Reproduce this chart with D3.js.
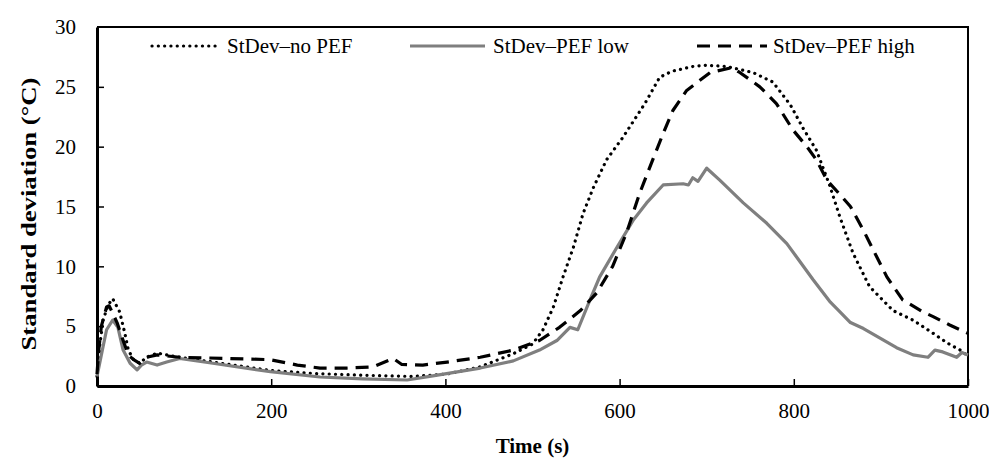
<!DOCTYPE html>
<html>
<head>
<meta charset="utf-8">
<script src="https://cdn.jsdelivr.net/npm/d3@7"></script>
<style>
  body { margin: 0; background: #fff; }
  svg { display: block; font-family: "Liberation Serif", "Times New Roman", serif; }
</style>
</head>
<body>
<svg id="chart"></svg>
<script>
// time (s) / standard deviation (°C)
const noPefT = [0, 3, 7, 13, 18, 26, 32, 36, 42, 49, 57, 69, 95, 133, 199, 248, 305, 363, 402, 440, 478, 500, 512, 524, 535, 547, 558, 570, 585, 604, 629, 646, 660, 684, 700, 723, 753, 776, 796, 811, 826, 841, 853, 868, 887, 914, 937, 960, 976, 991, 1000];
const noPefV = [0.8, 3.3, 5.5, 6.8, 7.3, 6.2, 4.4, 3.0, 2.2, 1.9, 2.4, 2.75, 2.4, 2.0, 1.3, 1.05, 0.9, 0.8, 1.0, 1.6, 2.7, 3.5, 4.7, 6.6, 9.1, 11.6, 14.4, 16.6, 18.9, 20.8, 23.6, 25.8, 26.3, 26.7, 26.8, 26.7, 26.2, 25.4, 23.5, 21.5, 19.7, 16.8, 14.1, 11.1, 8.3, 6.3, 5.5, 4.4, 3.6, 3.0, 2.5];

const lowT = [0, 7, 11, 18, 24, 30, 38, 46, 51, 57, 69, 80, 95, 133, 199, 256, 305, 356, 382, 440, 478, 508, 528, 543, 552, 566, 577, 597, 616, 631, 650, 673, 679, 684, 690, 700, 715, 742, 769, 792, 803, 822, 842, 853, 865, 880, 899, 918, 937, 954, 962, 971, 987, 993, 1000];
const lowV = [0.8, 3.3, 4.7, 5.5, 4.9, 3.0, 1.9, 1.35, 1.75, 2.0, 1.75, 2.0, 2.3, 1.9, 1.2, 0.75, 0.6, 0.5, 0.8, 1.5, 2.1, 3.0, 3.8, 4.9, 4.7, 7.2, 9.1, 11.6, 13.9, 15.3, 16.8, 16.9, 16.8, 17.4, 17.1, 18.2, 17.2, 15.3, 13.6, 11.9, 10.8, 8.9, 7.0, 6.2, 5.3, 4.8, 4.0, 3.2, 2.6, 2.4, 3.0, 2.85, 2.4, 2.8, 2.6];

const highT = [0, 2, 5, 11, 14, 23, 30, 36, 42, 49, 57, 69, 95, 150, 199, 230, 256, 287, 317, 340, 350, 374, 402, 440, 478, 508, 531, 555, 574, 592, 608, 623, 638, 650, 661, 677, 704, 729, 738, 761, 780, 799, 815, 826, 838, 853, 865, 880, 891, 907, 925, 948, 960, 979, 991, 1000];
const highV = [1.0, 3.0, 5.0, 6.6, 6.7, 5.3, 3.8, 2.6, 2.2, 1.9, 2.4, 2.6, 2.4, 2.3, 2.2, 1.75, 1.5, 1.5, 1.6, 2.3, 1.8, 1.75, 2.0, 2.4, 3.0, 3.8, 4.9, 6.3, 7.8, 10.0, 12.8, 16.1, 18.9, 21.1, 23.0, 24.7, 26.2, 26.6, 26.2, 25.0, 23.6, 21.4, 20.0, 18.9, 17.2, 16.0, 15.0, 13.0, 11.4, 9.1, 7.2, 6.2, 5.8, 5.1, 4.7, 4.4];

const xTicks = [0, 200, 400, 600, 800, 1000];
const yTicks = [0, 5, 10, 15, 20, 25, 30];
const seriesNames = ["StDev\u2013no PEF", "StDev\u2013PEF low", "StDev\u2013PEF high"];

const width = 989, height = 473;
const margin = {top: 27, right: 21, bottom: 87, left: 97};

const svg = d3.select('#chart')
  .attr('width', width)
  .attr('height', height);

const x = d3.scaleLinear().domain([0, 1000]).range([margin.left, width - margin.right]);
const y = d3.scaleLinear().domain([0, 30]).range([height - margin.bottom, margin.top]);

// styles for each series
const styles = [
  {stroke: '#000', width: 3.2, dash: '0.1 6.2', cap: 'round'},
  {stroke: '#7f7f7f', width: 3.2, dash: null, cap: 'butt'},
  {stroke: '#000', width: 3.2, dash: '13 8', cap: 'butt'}
];

const series = [
  noPefT.map((t, i) => [t, noPefV[i]]),
  lowT.map((t, i) => [t, lowV[i]]),
  highT.map((t, i) => [t, highV[i]])
];

const line = d3.line().x(d => x(d[0])).y(d => y(d[1]));

// frame top + right
svg.append('path')
  .attr('d', `M${x(0)},${y(30)}H${x(1000)}V${y(0)}`)
  .attr('fill', 'none').attr('stroke', '#000').attr('stroke-width', 2);

const gx = svg.append('g')
  .attr('transform', `translate(0,${y(0)})`)
  .call(d3.axisBottom(x).tickValues(xTicks).tickFormat(d3.format('d'))
    .tickSizeInner(-7).tickSizeOuter(0).tickPadding(17));
const gy = svg.append('g')
  .attr('transform', `translate(${x(0)},0)`)
  .call(d3.axisLeft(y).tickValues(yTicks).tickSizeInner(-7).tickSizeOuter(0).tickPadding(21));

[gx, gy].forEach(g => {
  g.select('.domain').attr('stroke-width', 3);
  g.selectAll('.tick line').attr('stroke-width', 1.5);
  g.selectAll('text').attr('font-size', 21).attr('font-family', '"Liberation Serif", serif').attr('fill', '#000');
});
gy.select('.tick:last-of-type line').remove();
gx.select('.tick:first-of-type line').remove();

// lines
series.forEach((s, i) => {
  svg.append('path')
    .datum(s)
    .attr('d', line)
    .attr('fill', 'none')
    .attr('stroke', styles[i].stroke)
    .attr('stroke-width', styles[i].width)
    .attr('stroke-dasharray', styles[i].dash)
    .attr('stroke-linecap', styles[i].cap)
    .attr('stroke-linejoin', 'round');
});

// legend
const legendX = [[152, 218, 227], [410, 485, 493], [697, 767, 773]];
const lg = svg.append('g');
seriesNames.forEach((name, i) => {
  lg.append('line')
    .attr('x1', legendX[i][0]).attr('x2', legendX[i][1])
    .attr('y1', 46).attr('y2', 46)
    .attr('stroke', styles[i].stroke)
    .attr('stroke-width', styles[i].width)
    .attr('stroke-dasharray', styles[i].dash)
    .attr('stroke-linecap', styles[i].cap);
  lg.append('text')
    .attr('x', legendX[i][2]).attr('y', 53)
    .attr('font-size', 21)
    .text(name);
});

// axis titles
svg.append('text')
  .attr('x', (x(0) + x(1000)) / 2).attr('y', 453)
  .attr('text-anchor', 'middle')
  .attr('font-size', 21).attr('font-weight', 'bold')
  .text('Time (s)');
svg.append('text')
  .attr('transform', `translate(36,214) rotate(-90) scale(1.27,1)`)
  .attr('text-anchor', 'middle')
  .attr('font-size', 21).attr('font-weight', 'bold')
  .text('Standard deviation (\u00B0C)');
</script>
</body>
</html>
